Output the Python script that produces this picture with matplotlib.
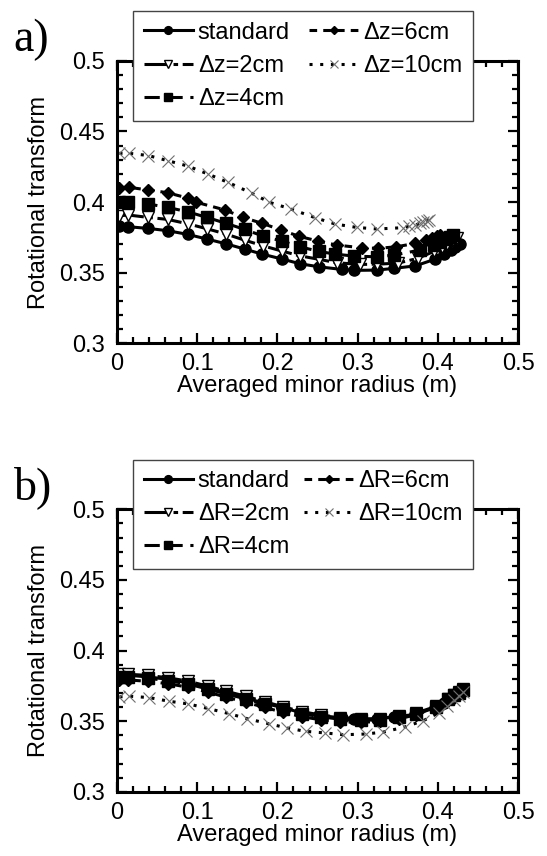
import matplotlib.pyplot as plt
from matplotlib.ticker import MultipleLocator

plt.rcParams['font.family'] = ['Liberation Sans', 'DejaVu Sans']

# ---- panel a: vertical shift dz ----
x_std = [0.003, 0.014, 0.039, 0.063, 0.088, 0.112, 0.136, 0.159, 0.181, 0.206,
         0.228, 0.252, 0.280, 0.296, 0.324, 0.345, 0.372, 0.396, 0.408, 0.416, 0.422, 0.428]
y_std = [0.383, 0.3825, 0.3813, 0.3797, 0.3771, 0.3738, 0.3704, 0.3667, 0.3631, 0.3596,
         0.3563, 0.3541, 0.3523, 0.3516, 0.3518, 0.3530, 0.3548, 0.3594, 0.3630, 0.3660, 0.3685, 0.3705]

x_dz2 = [0.003, 0.014, 0.039, 0.063, 0.088, 0.112, 0.136, 0.159, 0.182, 0.206,
         0.228, 0.252, 0.274, 0.303, 0.324, 0.350, 0.375, 0.395, 0.405, 0.412, 0.418, 0.424]
y_dz2 = [0.3903, 0.3908, 0.3891, 0.3877, 0.3846, 0.3811, 0.3773, 0.3730, 0.3690, 0.3652,
         0.3619, 0.3594, 0.3570, 0.3558, 0.3560, 0.3567, 0.3601, 0.3650, 0.3680, 0.3705, 0.3725, 0.3745]

x_dz4 = [0.003, 0.014, 0.039, 0.063, 0.088, 0.112, 0.136, 0.159, 0.182, 0.206,
         0.228, 0.252, 0.272, 0.296, 0.324, 0.345, 0.378, 0.395, 0.403, 0.410, 0.415, 0.419]
y_dz4 = [0.4003, 0.4003, 0.3986, 0.3962, 0.3931, 0.3891, 0.3849, 0.3806, 0.3759, 0.3723,
         0.3683, 0.3650, 0.3631, 0.3617, 0.3612, 0.3624, 0.3660, 0.3695, 0.3715, 0.3735, 0.3750, 0.3765]

x_dz6 = [0.003, 0.015, 0.039, 0.063, 0.088, 0.099, 0.135, 0.157, 0.181, 0.205,
         0.227, 0.251, 0.274, 0.305, 0.326, 0.348, 0.372, 0.385, 0.393, 0.399, 0.403]
y_dz6 = [0.4102, 0.4104, 0.4085, 0.4066, 0.4028, 0.3998, 0.3943, 0.3891, 0.3849, 0.3801,
         0.3757, 0.3723, 0.3695, 0.3676, 0.3672, 0.3683, 0.3707, 0.3730, 0.3745, 0.3758, 0.3768]

x_dz10 = [0.003, 0.015, 0.039, 0.063, 0.088, 0.113, 0.138, 0.168, 0.190, 0.217,
          0.247, 0.272, 0.299, 0.324, 0.356, 0.364, 0.372, 0.378, 0.382, 0.386, 0.389]
y_dz10 = [0.4345, 0.4345, 0.4329, 0.4293, 0.4255, 0.4199, 0.4140, 0.4062, 0.3998, 0.3950,
          0.3889, 0.3844, 0.3820, 0.3809, 0.3818, 0.3828, 0.3837, 0.3850, 0.3861, 0.3868, 0.3875]

# ---- panel b: horizontal shift dR ----
x_r2 = [0.003, 0.014, 0.039, 0.064, 0.089, 0.113, 0.136, 0.161, 0.184, 0.207,
        0.231, 0.254, 0.278, 0.304, 0.328, 0.352, 0.373, 0.398, 0.413, 0.420, 0.426, 0.431]
y_r2 = [0.3835, 0.3832, 0.3824, 0.3807, 0.3783, 0.3748, 0.3712, 0.3676, 0.3638, 0.3602,
        0.3567, 0.3544, 0.3526, 0.3514, 0.3518, 0.3536, 0.3558, 0.3605, 0.3660, 0.3685, 0.3705, 0.3725]

x_r4 = [0.003, 0.014, 0.039, 0.064, 0.089, 0.113, 0.136, 0.161, 0.184, 0.207,
        0.231, 0.254, 0.278, 0.304, 0.328, 0.352, 0.373, 0.398, 0.413, 0.420, 0.426, 0.431]
y_r4 = [0.3815, 0.3812, 0.3803, 0.3787, 0.3762, 0.3728, 0.3693, 0.3657, 0.3620, 0.3585,
        0.3552, 0.3531, 0.3514, 0.3506, 0.3510, 0.3528, 0.3552, 0.3600, 0.3655, 0.3682, 0.3702, 0.3722]

x_r6 = [0.003, 0.014, 0.039, 0.064, 0.089, 0.113, 0.136, 0.161, 0.184, 0.207,
        0.231, 0.254, 0.278, 0.304, 0.328, 0.352, 0.373, 0.398, 0.413, 0.420, 0.426, 0.431]
y_r6 = [0.3795, 0.3792, 0.3782, 0.3765, 0.3740, 0.3706, 0.3670, 0.3634, 0.3597, 0.3563,
        0.3531, 0.3510, 0.3496, 0.3492, 0.3498, 0.3518, 0.3545, 0.3595, 0.3650, 0.3678, 0.3700, 0.3720]

x_r10 = [0.003, 0.015, 0.040, 0.065, 0.089, 0.114, 0.140, 0.162, 0.189, 0.212,
         0.235, 0.259, 0.282, 0.310, 0.332, 0.359, 0.382, 0.401, 0.412, 0.420, 0.426, 0.431]
y_r10 = [0.3672, 0.3677, 0.3667, 0.3641, 0.3622, 0.3589, 0.3553, 0.3518, 0.3482, 0.3452,
         0.3428, 0.3417, 0.3404, 0.3409, 0.3423, 0.3459, 0.3504, 0.3558, 0.3610, 0.3650, 0.3680, 0.3705]

labels_a = ['standard', 'Δz=2cm', 'Δz=4cm', 'Δz=6cm', 'Δz=10cm']
labels_b = ['standard', 'ΔR=2cm', 'ΔR=4cm', 'ΔR=6cm', 'ΔR=10cm']

styles = [
    dict(ls='-', marker='o', ms=8, mfc='black', mec='black'),
    dict(ls=(0, (8, 1.5, 1.5, 1.5)), marker='v', ms=9, mfc='white', mec='black', mew=1),
    dict(ls=(0, (5, 2.5)), marker='s', ms=8.5, mfc='black', mec='black'),
    dict(ls=(0, (2.5, 2)), marker='D', ms=6, mfc='black', mec='black'),
    dict(ls=(0, (1, 2.5)), marker='x', ms=8, mfc='none', mec='#6f6f6f', mew=0.8),
]

fig = plt.figure(figsize=(5.47, 8.56), dpi=100)
ax_a = fig.add_axes([0.214, 0.599, 0.733, 0.330])
ax_b = fig.add_axes([0.214, 0.075, 0.733, 0.330])

data_a = [(x_std, y_std), (x_dz2, y_dz2), (x_dz4, y_dz4), (x_dz6, y_dz6), (x_dz10, y_dz10)]
data_b = [(x_std, y_std), (x_r2, y_r2), (x_r4, y_r4), (x_r6, y_r6), (x_r10, y_r10)]

fs = 17
for ax, data, labels, tag, ytop in [(ax_a, data_a, labels_a, 'a)', 0.987),
                                    (ax_b, data_b, labels_b, 'b)', 0.463)]:
    handles = []
    for (xs, ys), lab, st in zip(data, labels, styles):
        h, = ax.plot(xs, ys, color='black', lw=2.2, label=lab, **st)
        handles.append(h)
    ax.set_xlim(0, 0.5)
    ax.set_ylim(0.3, 0.5)
    ax.xaxis.set_minor_locator(MultipleLocator(0.02))
    ax.yaxis.set_minor_locator(MultipleLocator(0.01))
    ax.set_yticks([0.3, 0.35, 0.4, 0.45, 0.5], ['0.3', '0.35', '0.4', '0.45', '0.5'])
    ax.set_xticks([0, 0.1, 0.2, 0.3, 0.4, 0.5], ['0', '0.1', '0.2', '0.3', '0.4', '0.5'])
    ax.tick_params(which='both', direction='in', top=True, right=True, width=1.6,
                   labelsize=fs)
    ax.tick_params(axis='y', pad=9)
    ax.tick_params(axis='x', pad=7)
    ax.tick_params(which='major', length=7)
    ax.tick_params(which='minor', length=4)
    for sp in ax.spines.values():
        sp.set_linewidth(2.2)
    ax.set_xlabel('Averaged minor radius (m)', fontsize=fs, labelpad=0)
    ax.set_ylabel('Rotational transform', fontsize=fs, labelpad=6)
    leg = fig.legend(handles, labels,
                     loc='upper left', bbox_to_anchor=(0.243, ytop - 0.14, 0.622, 0.14),
                     mode='expand', ncol=2, fontsize=fs, frameon=True, fancybox=False,
                     edgecolor='#444444', framealpha=1, borderpad=0.45, labelspacing=0.47,
                     handlelength=2.1, handletextpad=0.2, columnspacing=0.6,
                     borderaxespad=0, numpoints=1, markerscale=0.7)
    leg.get_frame().set_linewidth(1)
    fig.text(0.025, ytop - 0.033, tag, fontsize=33, family='Liberation Serif', va='center')

fig.savefig('out.png', dpi=100)
